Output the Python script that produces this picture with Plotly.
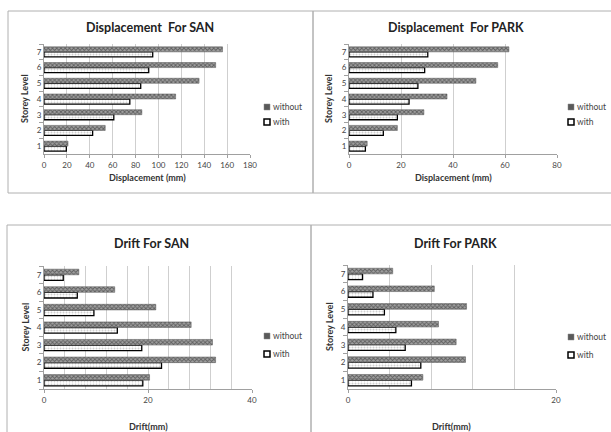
import plotly.graph_objects as go

W, H = 611, 432

storeys = ["1", "2", "3", "4", "5", "6", "7"]

disp_san_without = [21, 53.5, 85.5, 115, 135.5, 150, 156]
disp_san_with = [19.5, 42.5, 61, 75, 84.5, 91.5, 95]
disp_park_without = [7, 18.6, 28.8, 37.7, 48.8, 57.2, 61.5]
disp_park_with = [6.3, 13.2, 18.6, 23.1, 26.5, 29.1, 30.3]
drift_san_without = [20.3, 33, 32.4, 28.3, 21.5, 13.6, 6.7]
drift_san_with = [19, 22.6, 18.8, 14.1, 9.6, 6.4, 3.7]
drift_park_without = [7.2, 11.3, 10.4, 8.7, 11.4, 8.3, 4.3]
drift_park_with = [6.1, 7.0, 5.5, 4.6, 3.5, 2.4, 1.4]

series_names = ["without", "with"]
titles = ["Displacement  For SAN", "Displacement  For PARK", "Drift For SAN", "Drift For PARK"]
xtitles = ["Displacement (mm)", "Displacement (mm)", "Drift(mm)", "Drift(mm)"]
ytitle = "Storey Level"

FONT = "Lato, 'Open Sans', sans-serif"

def px(x):
    return x / W

def py(y):
    return 1 - y / H

# plot areas in pixels: (x0, x1, ytop, ybottom)
areas = [
    (44, 250, 44, 154),
    (349, 557, 44, 154),
    (44, 252, 266, 389),
    (348, 556, 265, 389),
]
xranges = [[0, 180], [0, 80], [0, 40], [0, 20]]
xdticks = [20, 20, 20, 20]
xminor = [None, None, 4, 4]

data = [
    (disp_san_without, disp_san_with),
    (disp_park_without, disp_park_with),
    (drift_san_without, drift_san_with),
    (drift_park_without, drift_park_with),
]

WO_STYLE = dict(color="#555555", line=dict(color="#555555", width=0.5),
                pattern=dict(shape="x", fgcolor="#1e1e1e", bgcolor="#a0a0a0", size=3, solidity=0.5))
WI_STYLE = dict(color="white", line=dict(color="black", width=1.3),
                pattern=dict(shape=".", fgcolor="#a0a0a0", bgcolor="white", size=3, solidity=0.35))

fig = go.Figure()

for i, (wo, wi) in enumerate(data):
    xa = "x" if i == 0 else f"x{i+1}"
    ya = "y" if i == 0 else f"y{i+1}"
    fig.add_trace(go.Bar(
        y=storeys, x=wi, orientation="h", name=series_names[1],
        xaxis=xa, yaxis=ya, showlegend=False, marker=WI_STYLE,
    ))
    fig.add_trace(go.Bar(
        y=storeys, x=wo, orientation="h", name=series_names[0],
        xaxis=xa, yaxis=ya, showlegend=False, marker=WO_STYLE,
    ))

layout = dict(
    width=W, height=H,
    margin=dict(l=0, r=0, t=0, b=0),
    paper_bgcolor="white", plot_bgcolor="white",
    barmode="group", bargap=0.36, bargroupgap=0.0,
    font=dict(family=FONT, size=8, color="#444444"),
    showlegend=False,
)

annotations = []
shapes = []

legend_pos = [(267, 107, 122), (571, 107, 122), (267, 336, 354), (571, 337, 355)]

for i in range(4):
    x0, x1, yt, yb = areas[i]
    sx = "" if i == 0 else str(i + 1)
    ax = dict(
        domain=[px(x0), px(x1)], anchor="y" + sx, automargin=False,
        range=xranges[i], dtick=xdticks[i], tick0=0,
        showgrid=True, gridcolor="#cfcfcf", gridwidth=1,
        showline=True, linecolor="#a0a0a0", linewidth=1,
        ticks="outside", ticklen=3, tickcolor="#a0a0a0",
        tickfont=dict(size=8, color="#444444", family=FONT),
        zeroline=False, fixedrange=True,
    )
    if xminor[i]:
        ax["minor"] = dict(dtick=xminor[i], showgrid=True, gridcolor="#cfcfcf", gridwidth=1)
    layout["xaxis" + sx] = ax
    layout["yaxis" + sx] = dict(
        domain=[py(yb), py(yt)], anchor="x" + sx, automargin=False,
        type="category", range=[-0.5, 6.5],
        showline=True, linecolor="#a0a0a0", linewidth=1,
        ticks="outside", ticklen=4, tickcolor="#a0a0a0", tickson="boundaries",
        tickfont=dict(size=8, color="#444444", family=FONT),
        showgrid=False, zeroline=False, fixedrange=True,
    )
    ty = 28 if i < 2 else 243
    annotations.append(dict(
        text="<b>" + titles[i] + "</b>", x=px((x0 + x1) / 2 + 3), y=py(ty),
        xref="paper", yref="paper", showarrow=False, xanchor="center", yanchor="middle",
        font=dict(size=12.5, color="#222222", family=FONT),
    ))
    xty = 177 if i < 2 else 426
    annotations.append(dict(
        text="<b>" + xtitles[i] + "</b>", x=px((x0 + x1) / 2), y=py(xty),
        xref="paper", yref="paper", showarrow=False, xanchor="center", yanchor="middle",
        font=dict(size=9, color="#333333", family=FONT),
    ))
    ytx = 25 if i in (0, 2) else 329
    annotations.append(dict(
        text="<b>" + ytitle + "</b>", x=px(ytx), y=py((yt + yb) / 2),
        xref="paper", yref="paper", showarrow=False, textangle=-90,
        xanchor="center", yanchor="middle",
        font=dict(size=9, color="#333333", family=FONT),
    ))
    # manual legend
    lx, ly1, ly2 = legend_pos[i]
    for name, ly, style in ((series_names[0], ly1, "wo"), (series_names[1], ly2, "wi")):
        if style == "wo":
            shapes.append(dict(type="rect", xref="paper", yref="paper",
                               x0=px(lx - 3), x1=px(lx + 3), y0=py(ly + 3), y1=py(ly - 3),
                               fillcolor="#5a5a5a", line=dict(color="#888888", width=0.5)))
        else:
            shapes.append(dict(type="rect", xref="paper", yref="paper",
                               x0=px(lx - 3), x1=px(lx + 3), y0=py(ly + 3), y1=py(ly - 3),
                               fillcolor="white", line=dict(color="black", width=1.5)))
        annotations.append(dict(
            text=name, x=px(lx + 4), y=py(ly), xref="paper", yref="paper",
            showarrow=False, xanchor="left", yanchor="middle",
            font=dict(size=8.5, color="#444444", family=FONT),
        ))

# panel border boxes
box_color = "#b0b0b0"
boxes = [
    (8, 11, 313, 193),
    (313, 11, 612, 193),
    (7, 225, 311, 433),
    (311, 225, 612, 433),
]
for (bx0, by0, bx1, by1) in boxes:
    shapes.append(dict(type="rect", xref="paper", yref="paper",
                       x0=px(bx0), x1=px(bx1), y0=py(by1), y1=py(by0),
                       line=dict(color=box_color, width=1), fillcolor="rgba(0,0,0,0)", layer="below"))

layout["annotations"] = annotations
layout["shapes"] = shapes
fig.update_layout(**layout)

fig.write_html(
    "out.html",
    config={"displayModeBar": False, "staticPlot": True},
    post_script="document.body.style.margin='0';document.body.style.overflow='hidden';",
)
